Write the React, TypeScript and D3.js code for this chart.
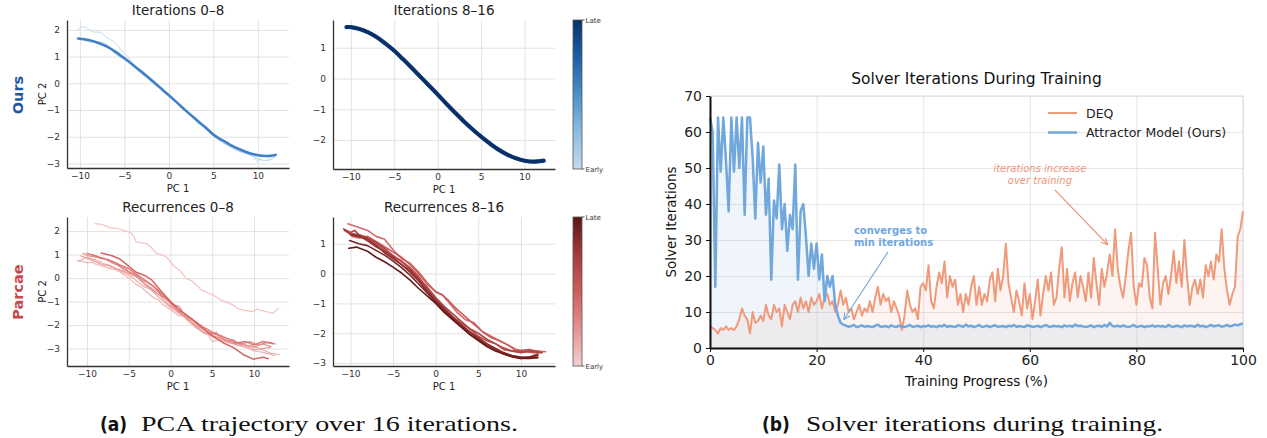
import React, { useRef, useEffect } from "react";
import * as d3 from "d3";

type Pt = [number, number];

// ---------- (a) PCA trajectories ----------
// "Ours", iterations 0-8: smooth converged path + faint early iterates
const oursEarlyMain: Pt[] = [[-10.2,1.68],[-9,1.62],[-8,1.52],[-7,1.38],[-6,1.18],[-5,0.94],[-4,0.68],[-3,0.41],[-2,0.13],[-1,-0.16],[0,-0.45],[1,-0.75],[2,-1.05],[3,-1.34],[4,-1.62],[5,-1.92],[6,-2.13],[7,-2.32],[8,-2.48],[9,-2.61],[10,-2.69],[11,-2.72],[12,-2.68]];
const oursEarlyA: Pt[] = [[-10.3,2.0],[-9.6,2.12],[-9,2.02],[-8.4,1.92],[-7.6,1.9],[-7,1.72],[-6.3,1.58],[-5.5,1.3],[-4.7,1.02],[-4,0.7],[-3.4,0.45],[-2.6,0.3],[-2,0.05],[-1.2,-0.1],[-0.5,-0.35],[0.2,-0.5],[1,-0.75],[1.6,-0.95],[2.3,-1.1],[3,-1.42],[3.8,-1.6],[4.6,-1.75],[5.4,-2.0],[6.2,-2.25],[7,-2.4],[7.8,-2.55],[8.6,-2.62],[9.4,-2.7],[10,-2.93],[10.6,-2.7],[11.2,-2.8],[12,-2.7]];
const oursEarlyB: Pt[] = [[-10,1.7],[-9,1.55],[-8,1.56],[-7,1.45],[-6,1.1],[-5,0.9],[-4.2,0.75],[-3.5,0.5],[-2.5,0.2],[-1.5,0.0],[-0.5,-0.3],[0.5,-0.6],[1.5,-0.95],[2.5,-1.2],[3.5,-1.5],[4.5,-1.82],[5.5,-2.1],[6.5,-2.3],[7.5,-2.45],[8.5,-2.6],[9.5,-2.75],[10.5,-2.88],[11.5,-2.85],[12,-2.72]];
// "Ours", iterations 8-16
const oursLate: Pt[] = [[-10.5,1.67],[-10,1.67],[-9,1.61],[-8,1.5],[-7,1.34],[-6,1.13],[-5,0.9],[-4,0.63],[-3,0.35],[-2,0.06],[-1,-0.23],[0,-0.52],[1,-0.82],[2,-1.11],[3,-1.39],[4,-1.65],[5,-1.89],[6,-2.11],[7,-2.31],[8,-2.47],[9,-2.59],[10,-2.67],[11,-2.7],[12.2,-2.67]];

// Parcae, recurrences 0-8
const parEarly0: Pt[] = [[-9,2.32],[-8.2,2.28],[-7.3,2.15],[-6.2,2.1],[-5.1,1.97],[-4.6,1.9],[-4.1,1.54],[-3.5,1.5],[-2.9,1.47],[-2.3,1.3],[-1.7,1.05],[-1.1,1.0],[-0.5,0.9],[0.5,0.48],[1.2,0.3],[1.9,-0.02],[2.5,-0.1],[3.1,-0.3],[3.7,-0.5],[4.3,-0.59],[5.5,-0.8],[6.1,-0.95],[6.7,-1.01],[7.5,-1.15],[8.1,-1.3],[8.7,-1.36],[9.9,-1.43],[10.3,-1.32],[10.7,-1.36],[11.5,-1.43],[12.3,-1.5],[12.9,-1.29]];
const parEarly1: Pt[] = [[-11.2,0.75],[-10.5,0.7],[-10,0.65],[-9.5,0.68],[-9,0.6],[-8,0.5],[-7,0.38],[-6.5,0.35],[-6,0.25],[-5,0.0],[-4,-0.3],[-3.5,-0.38],[-3,-0.55],[-2,-0.85],[-1.5,-0.9],[-1,-1.1],[0,-1.35],[1,-1.6],[1.5,-1.62],[2,-1.8],[3,-2.1],[4,-2.35],[4.5,-2.4],[5,-2.7],[6,-2.6],[7,-2.75],[8,-2.85],[9,-2.95],[10,-3.1],[11,-3.15],[12.5,-3.3]];
const parEarly2: Pt[] = [[-11,0.72],[-10,0.9],[-9.5,0.82],[-9,0.78],[-8,0.62],[-7,0.5],[-6,0.3],[-5,0.12],[-4.5,0.02],[-4,-0.15],[-3,-0.4],[-2.5,-0.45],[-2,-0.6],[-1,-0.95],[0,-1.25],[1,-1.5],[2,-1.65],[3,-1.9],[3.5,-2.05],[4,-2.2],[5,-2.5],[6,-2.65],[7,-2.75],[8,-2.8],[9,-2.85],[10,-2.9],[11,-3.05],[12,-3.2],[13,-3.25]];
const parEarly3: Pt[] = [[-10.8,0.95],[-10,0.85],[-9,0.7],[-8,0.55],[-7.5,0.56],[-7,0.45],[-6,0.35],[-5,0.2],[-4,0.05],[-3,-0.25],[-2,-0.5],[-1.5,-0.55],[-1,-0.85],[0,-1.2],[1,-1.4],[2,-1.75],[3,-2.0],[4,-2.2],[5,-2.4],[5.5,-2.3],[6,-2.55],[7,-2.7],[8,-2.85],[9,-2.9],[10,-3.05],[11,-3.0],[12,-2.95]];
const parEarly4: Pt[] = [[-10.5,1.05],[-9.8,0.95],[-9,0.9],[-8,0.85],[-7,0.65],[-6,0.5],[-5.5,0.45],[-5,0.25],[-4,0.05],[-3,-0.3],[-2,-0.55],[-1,-0.8],[-0.5,-0.82],[0,-1.1],[1,-1.45],[2,-1.7],[3,-2.05],[4,-2.3],[5,-2.45],[6,-2.55],[7,-2.7],[7.5,-2.62],[8,-2.75],[9,-2.85],[10,-2.95],[11,-2.8],[12,-2.9]];
const parEarly5: Pt[] = [[-9.5,1.0],[-8.5,0.85],[-7.5,0.8],[-6.5,0.6],[-5.5,0.35],[-4.5,0.2],[-3.5,-0.05],[-2.5,-0.25],[-1.5,-0.5],[-0.5,-0.85],[0.5,-1.15],[1,-1.2],[1.5,-1.45],[2.5,-1.75],[3.5,-2.05],[4.5,-2.3],[5.5,-2.4],[6.5,-2.6],[7.5,-2.75],[8.5,-2.8],[9.5,-2.7],[10.5,-2.85],[11.5,-2.75],[12.3,-2.8]];
const parEarly6: Pt[] = [[-10,1.05],[-9,0.95],[-8,0.82],[-7,0.72],[-6,0.55],[-5,0.4],[-4,0.15],[-3,-0.1],[-2,-0.35],[-1,-0.75],[0,-1.05],[1,-1.35],[2,-1.6],[3,-1.85],[4,-2.1],[5,-2.3],[6,-2.45],[7,-2.6],[8,-2.75],[9,-2.7],[10,-2.85],[11,-2.7],[12,-2.75],[12.5,-2.8]];
const parEarly7: Pt[] = [[-8.3,1.07],[-7,0.95],[-6,0.8],[-5,0.5],[-4.1,0.25],[-3,0.1],[-2.2,-0.1],[-1,-0.6],[0,-1.0],[1.2,-1.4],[2.6,-1.75],[3.8,-2.1],[5,-2.45],[6.3,-2.75],[7.5,-2.95],[8.7,-3.25],[9.9,-3.45],[11.1,-3.37],[11.7,-3.43]];

// Parcae, recurrences 8-16
const parLate0: Pt[] = [[-10.3,1.67],[-9,1.55],[-8,1.45],[-7,1.25],[-6,1.15],[-5,0.8],[-4,0.5],[-3,0.35],[-2,0.05],[-1,-0.3],[0,-0.62],[0.8,-0.72],[1.5,-0.95],[2.5,-1.3],[3.5,-1.55],[4.5,-1.65],[5.5,-1.95],[6.5,-2.1],[7.5,-2.25],[8.5,-2.4],[9.5,-2.55],[10.5,-2.6],[11.5,-2.58],[12.9,-2.62]];
const parLate1: Pt[] = [[-9.8,1.25],[-9,1.2],[-8,1.25],[-7,1.08],[-6,0.9],[-5,0.72],[-4,0.55],[-3,0.3],[-2,0.0],[-1,-0.35],[0,-0.6],[0.8,-0.72],[1.5,-0.9],[2.5,-1.2],[3.5,-1.45],[4.5,-1.7],[5.5,-1.95],[6.5,-2.15],[7.5,-2.25],[8.5,-2.4],[9.5,-2.6],[10.5,-2.62],[11.5,-2.65],[12.3,-2.65]];
const parLate2: Pt[] = [[-10,1.35],[-9,1.3],[-8,1.2],[-7,1.0],[-6,0.8],[-5,0.6],[-4,0.42],[-3,0.2],[-2,-0.1],[-1,-0.5],[0,-0.85],[1,-1.15],[2,-1.45],[3,-1.65],[4,-1.85],[5,-2.1],[6,-2.25],[7,-2.35],[8,-2.55],[9,-2.6],[10,-2.58],[11,-2.55],[12,-2.62]];
const parLate3: Pt[] = [[-10.8,1.5],[-10,1.38],[-9.5,1.45],[-9,1.3],[-8,1.2],[-7,1.05],[-6,0.85],[-5,0.6],[-4,0.4],[-3,0.15],[-2,-0.15],[-1,-0.45],[0,-0.8],[1,-1.1],[2,-1.35],[3,-1.6],[4,-1.85],[5,-2.0],[6,-2.2],[7,-2.35],[8,-2.5],[9,-2.6],[10,-2.65],[11,-2.6],[12.5,-2.65]];
const parLate4: Pt[] = [[-10.7,1.45],[-10,1.32],[-9,1.28],[-8,1.1],[-7,0.9],[-6,0.75],[-5,0.55],[-4,0.3],[-3,0.1],[-2,-0.2],[-1,-0.55],[0,-0.88],[1,-1.18],[2,-1.45],[3,-1.7],[4,-1.95],[5,-2.18],[6,-2.4],[7,-2.55],[8,-2.7],[9,-2.78],[10,-2.85],[11,-2.8],[12,-2.7]];
const parLate5: Pt[] = [[-10,1.3],[-9,1.25],[-8,1.15],[-7,0.95],[-6,0.7],[-5,0.5],[-4,0.3],[-3,0.05],[-2,-0.25],[-1,-0.6],[0,-0.9],[1,-1.2],[2,-1.5],[3,-1.75],[4,-1.95],[5,-2.15],[6,-2.35],[7,-2.5],[8,-2.65],[9,-2.75],[10,-2.8],[11,-2.82],[11.8,-2.8]];
const parLate6: Pt[] = [[-10.1,1.11],[-9,1.0],[-8,0.94],[-7,0.78],[-6,0.62],[-5,0.42],[-4,0.2],[-3,-0.05],[-2,-0.35],[-1,-0.65],[0,-0.95],[1,-1.25],[2,-1.5],[3,-1.78],[4,-2.02],[5,-2.22],[6,-2.4],[7,-2.55],[8,-2.7],[9,-2.78],[10,-2.82],[11,-2.8],[12,-2.75]];
const parLate7: Pt[] = [[-10.2,0.85],[-9.3,0.89],[-8,0.75],[-7,0.55],[-6,0.4],[-5,0.22],[-4,0.02],[-3,-0.22],[-2,-0.5],[-1,-0.75],[0,-1.0],[1,-1.3],[2,-1.55],[3,-1.8],[4,-2.05],[5,-2.25],[6,-2.45],[7,-2.6],[8,-2.7],[9,-2.8],[10,-2.85],[11,-2.85],[12,-2.82]];

const pcaTicksX = [-10, -5, 0, 5, 10];

// ---------- (b) solver iterations ----------
const progress = d3.range(0, 100.001, 0.5); // training progress (%), every 0.5
const deqIters = [
  6, 5.5, 5, 4, 5.5, 5, 6, 5, 5.5, 5,
  6, 8, 11, 9, 8, 4, 10, 7, 7.5, 9,
  7.5, 12, 9, 8, 12, 10, 11, 6, 12, 10,
  8, 12, 13, 10, 14, 11, 13, 10, 14, 12,
  13, 15, 11, 14, 15, 12, 13, 10, 12, 16,
  12, 14, 10, 11, 8, 10, 12, 9, 11, 10,
  13, 10, 14, 17, 12, 15, 13, 14, 10, 13,
  11, 9, 5, 9, 16, 12, 10, 11, 8, 17,
  18, 16, 23, 13, 11, 17, 21, 18, 24, 14,
  20, 17, 19, 12, 15, 10, 15, 12, 17, 20,
  12, 17, 12, 15, 13, 19, 21, 13, 22, 16,
  20, 29, 18, 14, 10, 16, 13, 9, 18, 11,
  15, 8, 13, 19, 9, 15, 20, 16, 21, 12,
  14, 22, 28, 14, 22, 13, 18, 21, 14, 20,
  17, 13, 21, 14, 25, 18, 12, 22, 17, 21,
  26, 20, 33, 22, 17, 14, 20, 27, 32, 17,
  12, 18, 17, 25, 23, 14, 11, 32, 22, 12,
  18, 20, 15, 20, 27, 18, 24, 17, 30, 20,
  12, 17, 19, 15, 19, 14, 23, 20, 24, 19,
  26, 24, 33, 22, 16, 12, 15, 17, 31, 33,
  38,
];
const oursIters = [
  64, 60, 17, 64, 49, 64, 52, 38, 64, 49,
  64, 50, 64, 37, 64, 64, 53, 36, 57, 46,
  56, 37, 47, 19, 41, 36, 51, 33, 40, 27,
  37, 33, 51, 19, 38, 40, 31, 20, 29, 22,
  29, 19, 26, 13, 20, 17, 20, 12, 9, 7,
  6.5,
  6.2, 5.9, 6.1, 6.4, 5.8, 6.0, 6.3, 5.9, 6.1, 6.0,
  5.8, 6.2, 6.5, 5.9, 6.0, 6.1, 5.8, 6.3, 6.0, 5.9,
  6.2, 6.0, 5.8, 6.1, 6.4, 5.9, 6.0, 6.2, 5.8, 6.1,
  6.0, 6.3, 5.9, 6.1, 5.8, 6.2, 6.0, 6.4, 5.9, 6.1,
  6.0, 5.8, 6.3, 6.1, 5.9, 6.5, 6.0, 6.2, 5.8, 6.1,
  6.4, 5.9, 6.0, 6.2, 5.8, 6.1, 6.3, 5.9, 6.0, 6.1,
  5.8, 6.2, 6.0, 6.4, 5.9, 6.1, 6.0, 5.8, 6.3, 6.1,
  5.9, 6.0, 6.2, 5.8, 6.1, 6.4, 6.0, 5.9, 6.2, 6.0,
  6.1, 5.8, 6.3, 6.0, 6.2, 5.9, 6.5, 6.1, 6.2, 6.0,
  5.9, 6.0, 6.3, 5.8, 6.1, 6.2, 5.9, 6.4, 6.0, 7.0,
  6.1, 6.0, 6.2, 5.9, 6.3, 6.0, 5.8, 6.1, 6.4, 5.9,
  6.0, 6.2, 5.8, 6.1, 6.0, 6.3, 5.9, 6.2, 6.0, 6.1,
  5.8, 6.4, 6.0, 5.9, 6.2, 6.1, 5.8, 6.3, 6.0, 6.2,
  6.1, 5.9, 6.5, 6.0, 6.2, 5.8, 6.1, 6.4, 6.0, 6.2,
  6.3, 5.9, 6.1, 6.4, 6.0, 6.2, 6.5, 6.3, 6.6, 6.8,
];
const seriesNames = ["DEQ", "Attractor Model (Ours)"];
const iterTicks = [0, 10, 20, 30, 40, 50, 60, 70];
const progressTicks = [0, 20, 40, 60, 80, 100];

const FONT = "DejaVu Sans, Verdana, sans-serif";
const DEQ_COLOR = "#ef9a7b";
const OURS_COLOR = "#70a7dc";
const intFmt = d3.format("d");

function drawPca(svg: any, cfg: any) {
  const [left, right, top, bottom] = cfg.box;
  const x = d3.scaleLinear().domain(cfg.xDomain).range([left, right]);
  const y = d3.scaleLinear().domain(cfg.yDomain).range([bottom, top]);
  const g = svg.append("g");

  // grid
  g.append("g")
    .attr("transform", `translate(0,${bottom})`)
    .call(d3.axisBottom(x).tickValues(pcaTicksX).tickSize(-(bottom - top)).tickFormat(() => ""))
    .call((a: any) => a.select(".domain").remove())
    .call((a: any) => a.selectAll("line").attr("stroke", "#e2e2e2").attr("stroke-width", 1));
  g.append("g")
    .attr("transform", `translate(${left},0)`)
    .call(d3.axisLeft(y).tickValues(cfg.yTicks).tickSize(-(right - left)).tickFormat(() => ""))
    .call((a: any) => a.select(".domain").remove())
    .call((a: any) => a.selectAll("line").attr("stroke", "#e2e2e2").attr("stroke-width", 1));

  // trajectories
  const line = d3
    .line<Pt>()
    .x((d) => x(d[0]))
    .y((d) => y(d[1]))
    .curve(cfg.smooth ? d3.curveCatmullRom : d3.curveLinear);
  cfg.curves.forEach((c: any) => {
    g.append("path")
      .attr("d", line(c.pts))
      .attr("fill", "none")
      .attr("stroke", c.color)
      .attr("stroke-width", c.width)
      .attr("stroke-linejoin", "round")
      .attr("stroke-linecap", "round");
  });

  // axes
  const styleAxis = (a: any) => {
    a.select(".domain").attr("stroke", "#333").attr("stroke-width", 1.3);
    a.selectAll("text").attr("font-family", FONT).attr("font-size", 9).attr("fill", "#333");
  };
  g.append("g")
    .attr("transform", `translate(0,${bottom})`)
    .call(d3.axisBottom(x).tickValues(pcaTicksX).tickFormat(intFmt).tickSize(0).tickSizeOuter(0).tickPadding(5))
    .call(styleAxis);
  g.append("g")
    .attr("transform", `translate(${left},0)`)
    .call(d3.axisLeft(y).tickValues(cfg.yTicks).tickFormat(intFmt).tickSize(0).tickSizeOuter(0).tickPadding(7))
    .call(styleAxis);

  g.append("text")
    .attr("x", (left + right) / 2)
    .attr("y", top - 5.5)
    .attr("text-anchor", "middle")
    .attr("font-family", FONT)
    .attr("font-size", 13.5)
    .attr("fill", "#222")
    .text(cfg.title);
  g.append("text")
    .attr("x", (left + right) / 2)
    .attr("y", bottom + 24)
    .attr("text-anchor", "middle")
    .attr("font-family", FONT)
    .attr("font-size", 10)
    .attr("fill", "#222")
    .text("PC 1");
  if (cfg.showYLabel) {
    g.append("text")
      .attr("transform", `translate(${left - 21},${(top + bottom) / 2}) rotate(-90)`)
      .attr("text-anchor", "middle")
      .attr("font-family", FONT)
      .attr("font-size", 10)
      .attr("fill", "#222")
      .text("PC 2");
  }
}

function drawColorbar(svg: any, id: string, stops: string[], top: number, bottom: number) {
  const defs = svg.append("defs");
  const grad = defs
    .append("linearGradient")
    .attr("id", id)
    .attr("x1", 0)
    .attr("y1", 1)
    .attr("x2", 0)
    .attr("y2", 0);
  stops.forEach((c, i) => {
    grad.append("stop").attr("offset", i / (stops.length - 1)).attr("stop-color", c);
  });
  const left = 573;
  const w = 9;
  svg
    .append("rect")
    .attr("x", left)
    .attr("y", top)
    .attr("width", w)
    .attr("height", bottom - top)
    .attr("fill", `url(#${id})`)
    .attr("stroke", "#555")
    .attr("stroke-width", 0.8);
  [
    ["Late", top],
    ["Early", bottom],
  ].forEach(([label, yy]: any) => {
    svg
      .append("line")
      .attr("x1", left + w)
      .attr("x2", left + w + 2.5)
      .attr("y1", yy)
      .attr("y2", yy)
      .attr("stroke", "#333")
      .attr("stroke-width", 0.8);
    svg
      .append("text")
      .attr("x", left + w + 3.5)
      .attr("y", yy + 2.5)
      .attr("font-family", FONT)
      .attr("font-size", 7)
      .attr("fill", "#333")
      .text(label);
  });
}

const App = () => {
  const svgRef = useRef<SVGSVGElement>(null);

  useEffect(() => {
    const svg = d3.select(svgRef.current);
    svg.selectAll("*").remove();

    // ----- (a) -----
    drawPca(svg, {
      box: [67, 289, 20, 168],
      xDomain: [-11.45, 13.5],
      yDomain: [-3.17, 2.37],
      yTicks: [-3, -2, -1, 0, 1, 2],
      title: "Iterations 0\u20138",
      showYLabel: true,
      smooth: true,
      curves: [
        { pts: oursEarlyA, color: "#c3daf1", width: 1 },
        { pts: oursEarlyB, color: "#b4d0ec", width: 1 },
        { pts: oursEarlyMain, color: "#3f80c6", width: 2.6 },
      ],
    });
    drawPca(svg, {
      box: [333, 555, 20, 169],
      xDomain: [-12.05, 13.5],
      yDomain: [-2.94, 1.9],
      yTicks: [-2, -1, 0, 1],
      title: "Iterations 8\u201316",
      showYLabel: false,
      smooth: true,
      curves: [
        { pts: oursLate, color: "#1b4c8c", width: 4.2 },
        { pts: oursLate, color: "#0a2f66", width: 3.2 },
      ],
    });
    drawPca(svg, {
      box: [67, 289, 217, 366],
      xDomain: [-12.4, 14.2],
      yDomain: [-3.74, 2.6],
      yTicks: [-3, -2, -1, 0, 1, 2],
      title: "Recurrences 0\u20138",
      showYLabel: true,
      smooth: false,
      curves: [
        { pts: parEarly0, color: "#f3c3c1", width: 1.2 },
        { pts: parEarly1, color: "#f0b7b5", width: 1.2 },
        { pts: parEarly2, color: "#eeaaa8", width: 1.2 },
        { pts: parEarly3, color: "#ea9e9c", width: 1.2 },
        { pts: parEarly4, color: "#e59290", width: 1.3 },
        { pts: parEarly5, color: "#e08684", width: 1.3 },
        { pts: parEarly6, color: "#db7775", width: 1.4 },
        { pts: parEarly7, color: "#d56664", width: 1.5 },
      ],
    });
    drawPca(svg, {
      box: [333, 555, 217, 366],
      xDomain: [-12.05, 14.0],
      yDomain: [-3.1, 1.9],
      yTicks: [-3, -2, -1, 0, 1],
      title: "Recurrences 8\u201316",
      showYLabel: false,
      smooth: false,
      curves: [
        { pts: parLate0, color: "#d46a68", width: 1.6 },
        { pts: parLate1, color: "#c95c5a", width: 1.6 },
        { pts: parLate2, color: "#bd4f4d", width: 1.6 },
        { pts: parLate3, color: "#b04444", width: 1.6 },
        { pts: parLate4, color: "#a03a3a", width: 1.6 },
        { pts: parLate5, color: "#8e2f2f", width: 1.6 },
        { pts: parLate6, color: "#7a2424", width: 1.6 },
        { pts: parLate7, color: "#661a1a", width: 1.6 },
      ],
    });

    drawColorbar(svg, "cbBlue", ["#c4daee", "#8dbde0", "#4a90c9", "#1d5fa6", "#08306b"], 20, 169);
    drawColorbar(svg, "cbRed", ["#f5cfcf", "#e49393", "#cf5d5b", "#a53b3b", "#5a1515"], 217, 366);

    svg
      .append("text")
      .attr("transform", "translate(23,95) rotate(-90)")
      .attr("text-anchor", "middle")
      .attr("font-family", FONT)
      .attr("font-weight", "bold")
      .attr("font-size", 14.5)
      .attr("fill", "#1f57a3")
      .text("Ours");
    svg
      .append("text")
      .attr("transform", "translate(23,292) rotate(-90)")
      .attr("text-anchor", "middle")
      .attr("font-family", FONT)
      .attr("font-weight", "bold")
      .attr("font-size", 14.5)
      .attr("fill", "#c54b4b")
      .text("Parcae");

    // ----- (b) -----
    const x = d3.scaleLinear().domain([0, 100]).range([710, 1243]);
    const y = d3.scaleLinear().domain([0, 70]).range([348, 96]);
    const g = svg.append("g");

    g.append("g")
      .attr("transform", "translate(0,348)")
      .call(d3.axisBottom(x).tickValues(progressTicks).tickSize(-252).tickFormat(() => ""))
      .call((a: any) => a.select(".domain").remove())
      .call((a: any) => a.selectAll("line").attr("stroke", "#e6e6e6").attr("stroke-width", 1));
    g.append("g")
      .attr("transform", "translate(710,0)")
      .call(d3.axisLeft(y).tickValues(iterTicks).tickSize(-533).tickFormat(() => ""))
      .call((a: any) => a.select(".domain").remove())
      .call((a: any) => a.selectAll("line").attr("stroke", "#e6e6e6").attr("stroke-width", 1));
    g.append("rect")
      .attr("x", 710)
      .attr("y", 96)
      .attr("width", 533)
      .attr("height", 252)
      .attr("fill", "none")
      .attr("stroke", "#dddddd")
      .attr("stroke-width", 1);

    const deqPts: Pt[] = progress.map((p, i) => [p, deqIters[i]]);
    const oursPts: Pt[] = progress.map((p, i) => [p, oursIters[i]]);
    const area = d3
      .area<Pt>()
      .x((d) => x(d[0]))
      .y0(y(0))
      .y1((d) => y(d[1]));
    const line = d3
      .line<Pt>()
      .x((d) => x(d[0]))
      .y((d) => y(d[1]));

    g.append("path").attr("d", area(deqPts)).attr("fill", DEQ_COLOR).attr("fill-opacity", 0.11);
    g.append("path").attr("d", area(oursPts)).attr("fill", OURS_COLOR).attr("fill-opacity", 0.11);
    g.append("path")
      .attr("d", line(deqPts))
      .attr("fill", "none")
      .attr("stroke", DEQ_COLOR)
      .attr("stroke-width", 2)
      .attr("stroke-linejoin", "round");
    g.append("path")
      .attr("d", line(oursPts))
      .attr("fill", "none")
      .attr("stroke", OURS_COLOR)
      .attr("stroke-width", 2.5)
      .attr("stroke-linejoin", "round");

    const styleAxis = (a: any) => {
      a.select(".domain").attr("stroke", "#111").attr("stroke-width", 2);
      a.selectAll(".tick line").attr("stroke", "#111").attr("stroke-width", 1);
      a.selectAll("text").attr("font-family", FONT).attr("font-size", 14).attr("fill", "#222");
    };
    g.append("g")
      .attr("transform", "translate(0,348)")
      .call(d3.axisBottom(x).tickValues(progressTicks).tickSize(4).tickSizeOuter(0).tickPadding(3))
      .call(styleAxis);
    g.append("g")
      .attr("transform", "translate(710,0)")
      .call(d3.axisLeft(y).tickValues(iterTicks).tickSize(4).tickSizeOuter(0).tickPadding(4))
      .call(styleAxis);

    g.append("text")
      .attr("x", 976.5)
      .attr("y", 84)
      .attr("text-anchor", "middle")
      .attr("font-family", FONT)
      .attr("font-size", 15.5)
      .attr("fill", "#111")
      .text("Solver Iterations During Training");
    g.append("text")
      .attr("x", 976.5)
      .attr("y", 386)
      .attr("text-anchor", "middle")
      .attr("font-family", FONT)
      .attr("font-size", 13.5)
      .attr("fill", "#111")
      .text("Training Progress (%)");
    g.append("text")
      .attr("transform", "translate(676,222) rotate(-90)")
      .attr("text-anchor", "middle")
      .attr("font-family", FONT)
      .attr("font-size", 13.5)
      .attr("fill", "#111")
      .text("Solver Iterations");

    // legend
    const legend = g.append("g").attr("transform", "translate(1048,113)");
    [DEQ_COLOR, OURS_COLOR].forEach((c, i) => {
      legend
        .append("line")
        .attr("x1", 0)
        .attr("x2", 29)
        .attr("y1", i * 19.5)
        .attr("y2", i * 19.5)
        .attr("stroke", c)
        .attr("stroke-width", i === 0 ? 2 : 2.5);
      legend
        .append("text")
        .attr("x", 38)
        .attr("y", i * 19.5 + 4.5)
        .attr("font-family", FONT)
        .attr("font-size", 12.5)
        .attr("fill", "#222")
        .text(seriesNames[i]);
    });

    // annotations
    const defs = svg.append("defs");
    [
      ["arrOrange", "#ee8a6a"],
      ["arrBlue", "#6fa6dc"],
    ].forEach(([id, c]) => {
      defs
        .append("marker")
        .attr("id", id)
        .attr("viewBox", "0 0 10 10")
        .attr("refX", 9)
        .attr("refY", 5)
        .attr("markerWidth", 8)
        .attr("markerHeight", 8)
        .attr("markerUnits", "userSpaceOnUse")
        .attr("orient", "auto")
        .append("path")
        .attr("d", "M1,1 L9,5 L1,9")
        .attr("fill", "none")
        .attr("stroke", c)
        .attr("stroke-width", 1.3);
    });
    g.append("line")
      .attr("x1", x(64.7))
      .attr("y1", y(43.9))
      .attr("x2", x(74.6))
      .attr("y2", y(28.7))
      .attr("stroke", "#ee8a6a")
      .attr("stroke-width", 1.1)
      .attr("marker-end", "url(#arrOrange)");
    ["iterations increase", "over training"].forEach((t, i) => {
      g.append("text")
        .attr("x", x(61.9))
        .attr("y", y(49.0) + i * 12.5)
        .attr("text-anchor", "middle")
        .attr("font-family", FONT)
        .attr("font-style", "italic")
        .attr("font-size", 10)
        .attr("fill", "#f0947a")
        .text(t);
    });
    g.append("line")
      .attr("x1", x(33.4))
      .attr("y1", y(26.7))
      .attr("x2", x(25.1))
      .attr("y2", y(7.9))
      .attr("stroke", "#6fa6dc")
      .attr("stroke-width", 1.1)
      .attr("marker-end", "url(#arrBlue)");
    ["converges to", "min iterations"].forEach((t, i) => {
      g.append("text")
        .attr("x", x(27))
        .attr("y", y(31.6) + i * 12)
        .attr("font-family", FONT)
        .attr("font-weight", "bold")
        .attr("font-size", 10)
        .attr("fill", "#6fa6dc")
        .text(t);
    });

    // captions
    const caption = (lx: number, bold: string, tx: number, text: string, tw: number) => {
      svg
        .append("text")
        .attr("x", lx)
        .attr("y", 431)
        .attr("font-family", "DejaVu Sans Condensed, DejaVu Sans, sans-serif")
        .attr("font-weight", "bold")
        .attr("font-size", 19)
        .attr("fill", "#111")
        .text(bold);
      svg
        .append("text")
        .attr("x", tx)
        .attr("y", 431)
        .attr("font-family", "Liberation Serif, DejaVu Serif, serif")
        .attr("font-size", 21)
        .attr("fill", "#111")
        .attr("textLength", tw)
        .attr("lengthAdjust", "spacingAndGlyphs")
        .text(text);
    };
    caption(100, "(a)", 141, "PCA trajectory over 16 iterations.", 377);
    caption(762, "(b)", 806, "Solver iterations during training.", 357);
  }, []);

  return (
    <div>
      <svg
        ref={svgRef}
        width={1267}
        height={438}
        style={{ position: "absolute", left: 0, top: 0, background: "#fff" }}
      ></svg>
    </div>
  );
};

export default App;
